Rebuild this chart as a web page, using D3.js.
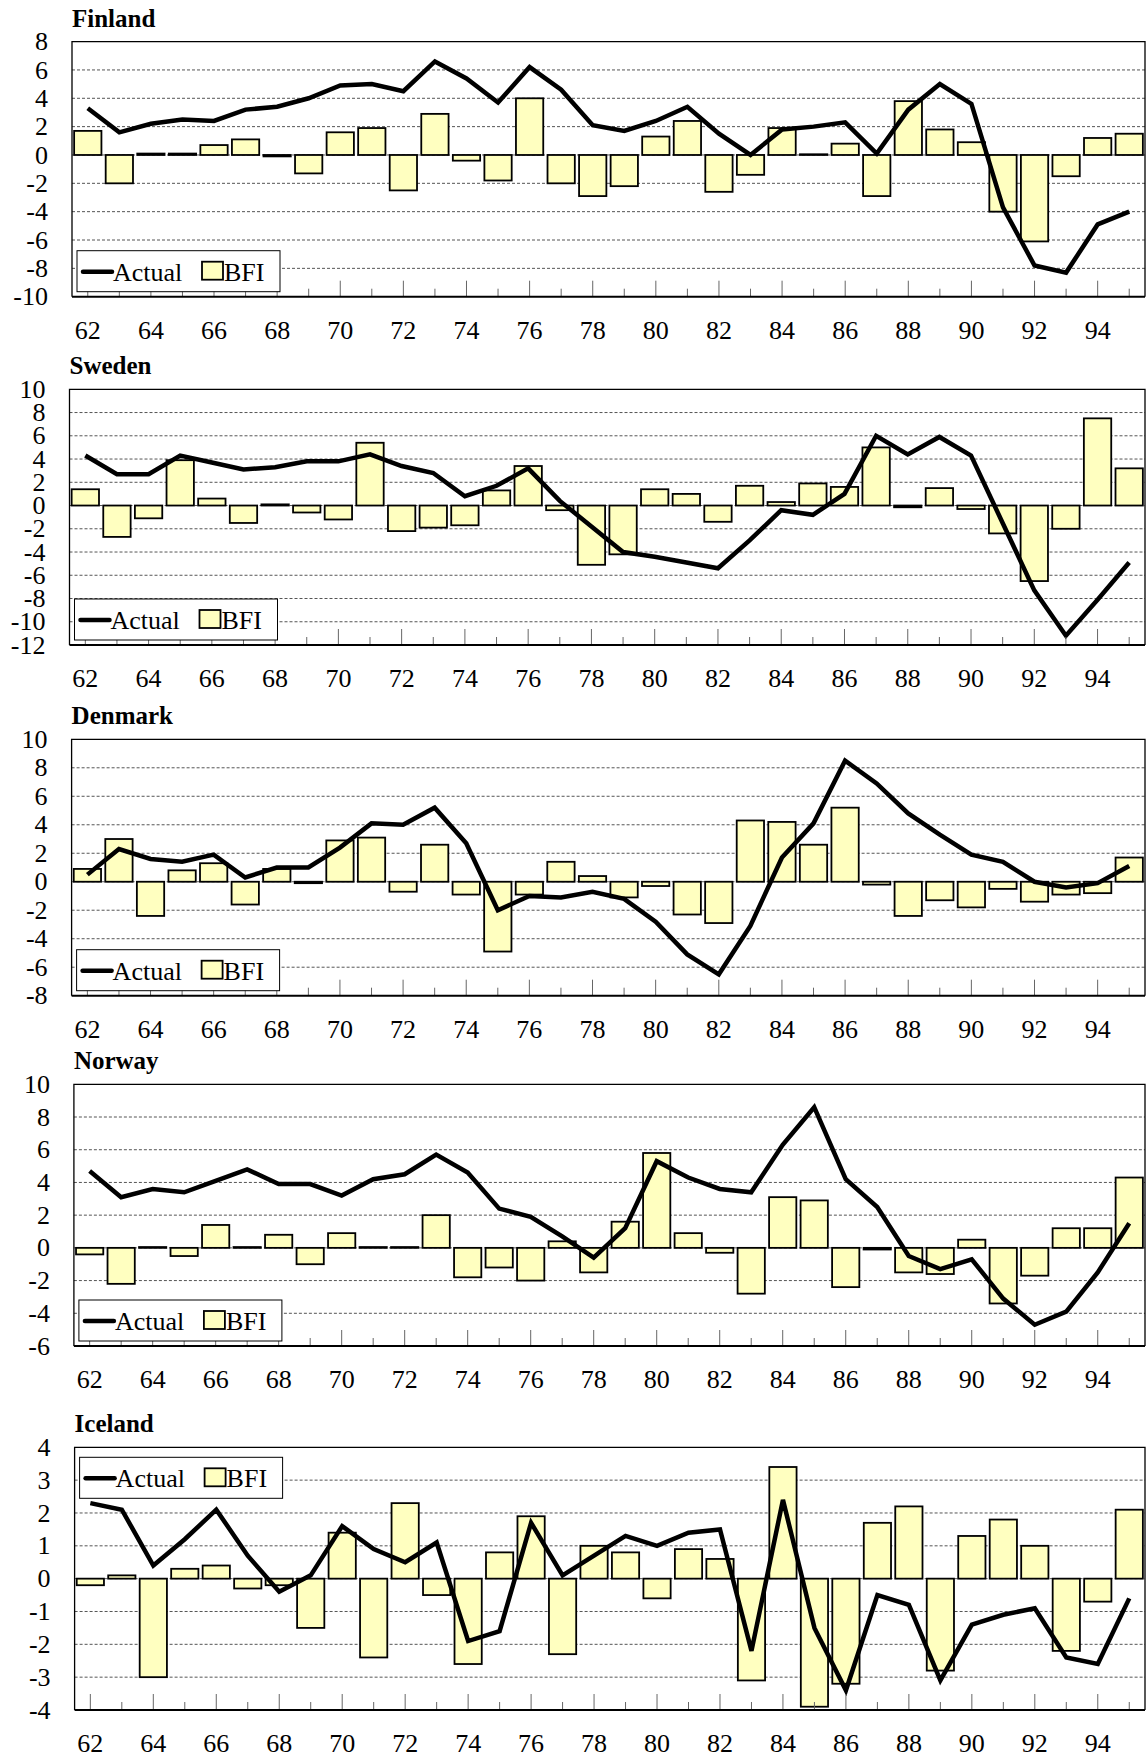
<!DOCTYPE html>
<html lang="en">
	<head>
		<meta charset="utf-8">
		<title>Actual vs BFI</title>
		<script type="text/javascript" src="https://d3js.org/d3.v7.min.js"></script>
		<style type="text/css">
			body {
				margin: 0;
				background: #ffffff;
			}
			text {
				font-family: "Liberation Serif", "Times New Roman", serif;
				font-size: 26px;
				fill: #000000;
			}
			text.title {
				font-weight: bold;
				font-size: 25px;
			}
			.grid line {
				stroke: #555555;
				stroke-width: 1;
				stroke-dasharray: 3,2;
			}
			.bar {
				fill: #ffffc0;
				stroke: #000000;
				stroke-width: 1.8;
			}
			.actual {
				fill: none;
				stroke: #000000;
				stroke-width: 4.5;
			}
			.tick-mark {
				stroke: #666666;
				stroke-width: 1;
			}
		</style>
	</head>
	<body>
		<div id="chart"></div>
		<script type="text/javascript">

			// years on the x axis (1962-1995)
			const years = [62,63,64,65,66,67,68,69,70,71,72,73,74,75,76,77,78,79,80,81,82,83,84,85,86,87,88,89,90,91,92,93,94,95];
			const yearLabels = ['62','64','66','68','70','72','74','76','78','80','82','84','86','88','90','92','94'];

			const finlandActual = [3.3,1.6,2.2,2.5,2.4,3.2,3.4,4.0,4.9,5.0,4.5,6.6,5.4,3.7,6.2,4.6,2.1,1.7,2.4,3.4,1.5,0.0,1.8,2.0,2.3,0.1,3.2,5.0,3.6,-3.7,-7.8,-8.3,-4.9,-4.0];
			const finlandBFI = [1.7,-2.0,0.1,0.1,0.7,1.1,-0.1,-1.3,1.6,1.9,-2.5,2.9,-0.4,-1.8,4.0,-2.0,-2.9,-2.2,1.3,2.4,-2.6,-1.4,1.9,0.05,0.8,-2.9,3.8,1.8,0.9,-4.0,-6.1,-1.5,1.2,1.5];
			const finlandTicks = [8,6,4,2,0,-2,-4,-6,-8,-10];

			const swedenActual = [4.3,2.7,2.7,4.3,3.7,3.1,3.3,3.8,3.8,4.4,3.4,2.8,0.8,1.7,3.2,0.4,-1.8,-4.0,-4.4,-4.9,-5.4,-3.0,-0.4,-0.8,1.0,6.0,4.4,5.9,4.3,-1.5,-7.3,-11.2,-8.1,-4.9];
			const swedenBFI = [1.4,-2.7,-1.1,3.9,0.6,-1.5,0.1,-0.6,-1.2,5.4,-2.2,-1.9,-1.7,1.3,3.4,-0.4,-5.1,-4.2,1.4,1.0,-1.4,1.7,0.3,1.9,1.6,5.0,-0.15,1.5,-0.3,-2.4,-6.5,-2.0,7.5,3.2];
			const swedenTicks = [10,8,6,4,2,0,-2,-4,-6,-8,-10,-12];

			const denmarkActual = [0.5,2.3,1.6,1.4,1.9,0.3,1.0,1.0,2.4,4.1,4.0,5.2,2.7,-2.0,-1.0,-1.1,-0.7,-1.2,-2.8,-5.1,-6.5,-3.1,1.7,4.1,8.5,6.9,4.8,3.3,1.9,1.4,0.0,-0.4,-0.1,1.1];
			const denmarkBFI = [0.9,3.0,-2.4,0.8,1.3,-1.6,0.9,-0.1,2.9,3.1,-0.7,2.6,-0.9,-4.9,-0.9,1.4,0.4,-1.1,-0.3,-2.3,-2.9,4.3,4.2,2.6,5.2,-0.2,-2.4,-1.3,-1.8,-0.5,-1.4,-0.9,-0.8,1.7];
			const denmarkTicks = [10,8,6,4,2,0,-2,-4,-6,-8];

			const norwayActual = [4.7,3.1,3.6,3.4,4.1,4.8,3.9,3.9,3.2,4.2,4.5,5.7,4.6,2.4,1.9,0.7,-0.6,1.2,5.3,4.3,3.6,3.4,6.3,8.6,4.2,2.5,-0.5,-1.3,-0.7,-3.1,-4.7,-3.9,-1.5,1.5];
			const norwayBFI = [-0.4,-2.2,0.05,-0.5,1.4,0.05,0.8,-1.0,0.9,0.05,0.05,2.0,-1.8,-1.2,-2.0,0.4,-1.5,1.6,5.8,0.9,-0.3,-2.8,3.1,2.9,-2.4,-0.1,-1.5,-1.6,0.5,-3.4,-1.7,1.2,1.2,4.3];
			const norwayTicks = [10,8,6,4,2,0,-2,-4,-6];

			const icelandActual = [2.3,2.1,0.4,1.2,2.1,0.7,-0.4,0.1,1.6,0.9,0.5,1.1,-1.9,-1.6,1.7,0.1,0.7,1.3,1.0,1.4,1.5,-2.2,2.4,-1.5,-3.4,-0.5,-0.8,-3.1,-1.4,-1.1,-0.9,-2.4,-2.6,-0.6];
			const icelandBFI = [-0.2,0.1,-3.0,0.3,0.4,-0.3,-0.2,-1.5,1.4,-2.4,2.3,-0.5,-2.6,0.8,1.9,-2.3,1.0,0.8,-0.6,0.9,0.6,-3.1,3.4,-3.9,-3.2,1.7,2.2,-2.8,1.3,1.8,1.0,-2.2,-0.7,2.1];
			const icelandTicks = [4,3,2,1,0,-1,-2,-3,-4];

			// panel layout (pixels)
			const panels = [
				{ name: 'Finland', actual: finlandActual, bfi: finlandBFI, ticks: finlandTicks, left: 72, top: 41.6, bottom: 296.7, legendAtTop: false },
				{ name: 'Sweden',  actual: swedenActual,  bfi: swedenBFI,  ticks: swedenTicks,  left: 69.5, top: 389.3, bottom: 645, legendAtTop: false },
				{ name: 'Denmark', actual: denmarkActual, bfi: denmarkBFI, ticks: denmarkTicks, left: 71.6, top: 739.3, bottom: 995.7, legendAtTop: false },
				{ name: 'Norway',  actual: norwayActual,  bfi: norwayBFI,  ticks: norwayTicks,  left: 73.9, top: 1084.3, bottom: 1346, legendAtTop: false },
				{ name: 'Iceland', actual: icelandActual, bfi: icelandBFI, ticks: icelandTicks, left: 74.6, top: 1447.3, bottom: 1710, legendAtTop: true }
			];

			const width = 1146, height = 1758;
			const plotRight = 1145;

			const svg = d3.select('#chart')
						  .append('svg')
						    .attr('width', width)
						    .attr('height', height)
						    .style('display', 'block');

			svg.append('rect')
			  .attr('width', width)
			  .attr('height', height)
			  .attr('fill', '#ffffff');

			panels.forEach(p => drawPanel(p));

			function drawPanel(p) {
				const g = svg.append('g');

				const x = d3.scaleBand()
						   .domain(years)
						   .range([p.left, plotRight])
						   .paddingInner(0.135)
						   .paddingOuter(0.0675);
				const xc = d => x(d) + x.bandwidth() / 2;

				const y = d3.scaleLinear()
						   .domain([d3.min(p.ticks), d3.max(p.ticks)])
						   .range([p.bottom, p.top]);

				// title
				g.append('text')
				  .attr('class', 'title')
				  .attr('x', p.left)
				  .attr('y', p.top - 15)
				  .text(p.name);

				// dashed gridlines
				g.append('g')
				  .attr('class', 'grid')
				  .selectAll('line')
				  .data(p.ticks.filter(t => t !== d3.max(p.ticks) && t !== d3.min(p.ticks)))
				  .join('line')
				  .attr('x1', p.left)
				  .attr('x2', plotRight)
				  .attr('y1', d => y(d))
				  .attr('y2', d => y(d));

				// y axis labels
				g.selectAll('text.ylab')
				  .data(p.ticks)
				  .join('text')
				  .attr('class', 'ylab')
				  .attr('x', p.left - 24)
				  .attr('y', d => y(d))
				  .attr('dy', '0.33em')
				  .style('text-anchor', 'end')
				  .text(d => d);

				// bars
				g.selectAll('rect.bar')
				  .data(years.map((yr, i) => ({ year: yr, value: p.bfi[i] })))
				  .join('rect')
				  .attr('class', 'bar')
				  .attr('x', d => x(d.year))
				  .attr('width', x.bandwidth())
				  .attr('y', d => y(Math.max(0, d.value)))
				  .attr('height', d => Math.abs(y(d.value) - y(0)));

				// actual line
				const line = d3.line()
							  .x(d => xc(d.year))
							  .y(d => y(d.value));
				g.append('path')
				  .datum(years.map((yr, i) => ({ year: yr, value: p.actual[i] })))
				  .attr('class', 'actual')
				  .attr('d', line);

				// tick marks pointing up from the bottom axis
				g.selectAll('line.tick-mark')
				  .data(years)
				  .join('line')
				  .attr('class', 'tick-mark')
				  .attr('x1', d => xc(d))
				  .attr('x2', d => xc(d))
				  .attr('y1', p.bottom)
				  .attr('y2', d => p.bottom - (d % 2 === 0 ? 16 : 8));

				// x labels
				g.selectAll('text.xlab')
				  .data(yearLabels)
				  .join('text')
				  .attr('class', 'xlab')
				  .attr('x', d => xc(+d))
				  .attr('y', p.bottom + 42)
				  .style('text-anchor', 'middle')
				  .text(d => d);

				// frame
				g.append('path')
				  .attr('d', `M${p.left},${p.bottom}V${p.top}H${plotRight}V${p.bottom}`)
				  .attr('fill', 'none')
				  .attr('stroke', '#000')
				  .attr('stroke-width', 1.3);
				g.append('line')
				  .attr('x1', p.left).attr('x2', plotRight)
				  .attr('y1', p.bottom).attr('y2', p.bottom)
				  .attr('stroke', '#000')
				  .attr('stroke-width', 2);

				// legend
				const lx = p.left + 5;
				const ly = p.legendAtTop ? p.top + 10 : p.bottom - 46;
				const lg = g.append('g').attr('transform', `translate(${lx},${ly})`);
				lg.append('rect')
				  .attr('width', 203)
				  .attr('height', 41)
				  .attr('fill', '#ffffff')
				  .attr('stroke', '#000')
				  .attr('stroke-width', 1);
				lg.append('line')
				  .attr('x1', 6).attr('x2', 35)
				  .attr('y1', 21).attr('y2', 21)
				  .attr('stroke', '#000')
				  .attr('stroke-width', 4.5)
				  .attr('stroke-linecap', 'round');
				lg.append('text')
				  .attr('x', 36)
				  .attr('y', 30)
				  .text('Actual');
				lg.append('rect')
				  .attr('class', 'bar')
				  .attr('x', 125)
				  .attr('y', 11)
				  .attr('width', 21)
				  .attr('height', 18);
				lg.append('text')
				  .attr('x', 147)
				  .attr('y', 30)
				  .text('BFI');
			}
		</script>
	</body>
</html>
